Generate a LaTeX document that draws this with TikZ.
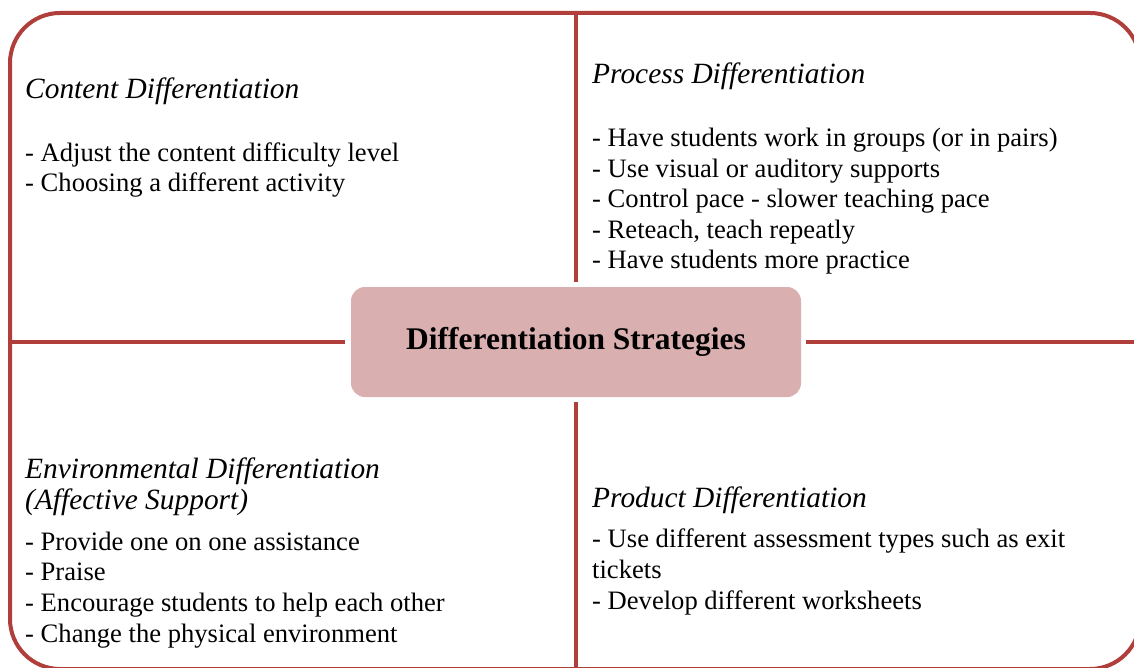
\documentclass[tikz,border=0pt]{standalone}
\usepackage{fontspec}
\setmainfont{Liberation Serif}
\definecolor{frame}{HTML}{B03F3C}
\definecolor{boxfill}{HTML}{D9AFAF}
\begin{document}
\begin{tikzpicture}[x=1pt,y=-1pt,
  bodytext/.style={anchor=base west,inner sep=0pt,align=left,font=\fontsize{26.6}{30.6}\selectfont},
  headtext/.style={anchor=base west,inner sep=0pt,align=left,font=\fontsize{29.4}{31}\selectfont\itshape},
  centrebox/.style={fill=boxfill,rounded corners=14pt,minimum width=450pt,minimum height=110pt,inner sep=0pt,font=\fontsize{31.5}{36}\selectfont\bfseries},
  rule/.style={draw=frame,line width=4.5pt}]
\useasboundingbox (0,0) rectangle (1134,668);
\clip (0,0) rectangle (1134,668);
\draw[frame,line width=4pt,rounded corners=50pt] (10,13) rectangle (1140,669);
\node[centrebox] (centre) at (576,342) {Differentiation Strategies};
\coordinate (ftop) at (576,13);
\coordinate (fbot) at (576,670);
\coordinate (fleft) at (10,342);
\coordinate (fright) at (1140,342);
\draw[rule] ([yshift=5pt]centre.north) -- (ftop);
\draw[rule] ([yshift=-5pt]centre.south) -- (fbot);
\draw[rule] ([xshift=-6pt]centre.west) -- (fleft);
\draw[rule] ([xshift=5pt]centre.east) -- (fright);
% multi-line nodes are placed by the baseline of their last line
\node[headtext] (h1) at (25,99) {Content Differentiation};
\node[bodytext] (b1) at (25,192) {- Adjust the content difficulty level\\- Choosing a different activity};
\node[headtext] (h2) at (592,84) {Process Differentiation};
\node[bodytext] (b2) at (592,269) {- Have students work in groups (or in pairs)\\- Use visual or auditory supports\\- Control pace - slower teaching pace\\- Reteach, teach repeatly\\- Have students more practice};
\node[headtext] (h3) at (25,509) {Environmental Differentiation\\(Affective Support)};
\node[bodytext] (b3) at (25,642) {- Provide one on one assistance\\- Praise\\- Encourage students to help each other\\- Change the physical environment};
\node[headtext] (h4) at (592,507) {Product Differentiation};
\node[bodytext] (b4) at (592,609) {- Use different assessment types such as exit\\tickets\\- Develop different worksheets};
\end{tikzpicture}
\end{document}
